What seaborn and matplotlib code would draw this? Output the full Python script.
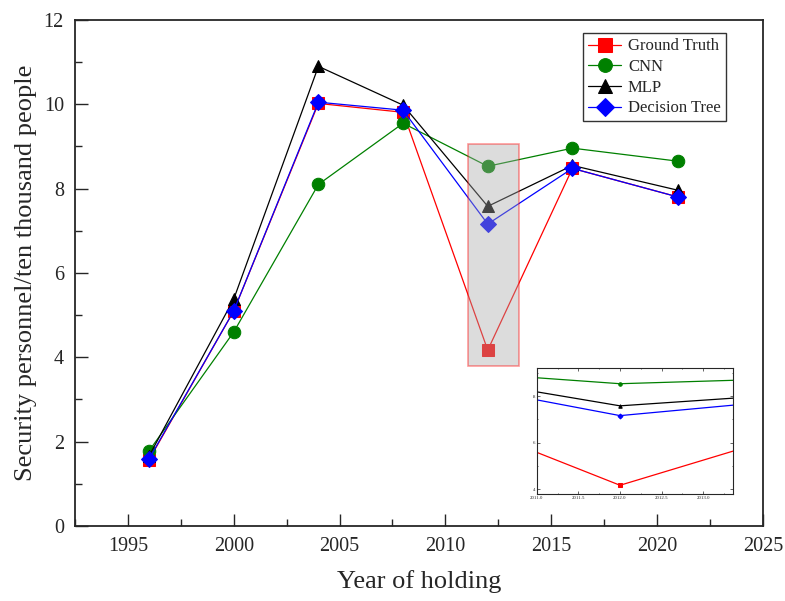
import matplotlib
matplotlib.use("Agg")
import matplotlib.pyplot as plt
import seaborn as sns
import pandas as pd
from matplotlib.patches import Rectangle
from matplotlib.ticker import MultipleLocator, FormatStrFormatter

years = [1996, 2000, 2004, 2008, 2012, 2016, 2021]
ground_truth = [1.57, 5.10, 10.02, 9.81, 4.17, 8.48, 7.80]
cnn = [1.78, 4.60, 8.10, 9.55, 8.53, 8.96, 8.65]
mlp = [1.66, 5.38, 10.90, 9.98, 7.58, 8.55, 7.96]
decision_tree = [1.59, 5.10, 10.05, 9.86, 7.16, 8.48, 7.80]

series_names = ["Ground Truth", "CNN", "MLP", "Decision Tree"]
series_vals = [ground_truth, cnn, mlp, decision_tree]
colors = ["#ff0000", "#008000", "#000000", "#0000ff"]
markers = ["s", "o", "^", "D"]

sns.set_style("ticks")
plt.rcParams["font.family"] = ["Liberation Serif", "DejaVu Serif"]

fig = plt.figure(figsize=(7.85, 6.01), dpi=100)
ax = fig.add_axes([0.0955, 0.1248, 0.8764, 0.842])

for name, vals, c, m in zip(series_names, series_vals, colors, markers):
    df = pd.DataFrame({"year": years, "value": vals})
    sns.lineplot(data=df, x="year", y="value", ax=ax, color=c, marker=m,
                 markersize=9 if m != "D" else 8, linewidth=0.9,
                 markeredgecolor=c, label=name)

ax.set_xlim(1992.5, 2025)
ax.set_ylim(0, 12)
ax.xaxis.set_major_locator(MultipleLocator(5))
ax.xaxis.set_minor_locator(MultipleLocator(2.5))
ax.yaxis.set_major_locator(MultipleLocator(2))
ax.yaxis.set_minor_locator(MultipleLocator(1))
ax.tick_params(which="major", direction="in", length=9, width=1, labelsize=14.5, pad=8)
ax.tick_params(which="minor", direction="in", length=5, width=1)
for s in ax.spines.values():
    s.set_linewidth(1.3)
ax.set_xlabel("Year of holding", fontsize=19, labelpad=10)
ax.set_ylabel("Security personnel/ten thousand people", fontsize=19, labelpad=5)

# highlight rectangle
rect = Rectangle((2011.05, 3.79), 2.43, 5.26, facecolor="#a8a8a8", alpha=0.4,
                 edgecolor="#ff0000", linewidth=1.2, zorder=10)
ax.add_patch(rect)

leg = ax.legend(loc="upper right", bbox_to_anchor=(0.958, 0.99), fontsize=12,
                frameon=True, fancybox=False, edgecolor="black",
                handlelength=2.0, borderpad=0.3, labelspacing=0.28,
                handletextpad=0.4, markerscale=1.1)
leg.get_frame().set_linewidth(1.0)

# inset
axin = ax.inset_axes([0.6715, 0.063, 0.285, 0.249])
for name, vals, c, m in zip(series_names, series_vals, colors, markers):
    df = pd.DataFrame({"year": years, "value": vals})
    sns.lineplot(data=df, x="year", y="value", ax=axin, color=c, marker=m,
                 markersize=2.5, linewidth=0.9, markeredgecolor=c, legend=False)
axin.set_xlim(2011.0, 2013.36)
axin.set_ylim(3.79, 9.2)
axin.xaxis.set_major_locator(MultipleLocator(0.5))
axin.yaxis.set_major_locator(MultipleLocator(2))
axin.yaxis.set_minor_locator(MultipleLocator(1))
axin.xaxis.set_minor_locator(MultipleLocator(0.25))
axin.tick_params(which="both", direction="in", top=True, right=True,
                 labelsize=3.5, length=2, width=0.5, pad=1)
axin.tick_params(which="minor", length=1)
axin.xaxis.set_major_formatter(FormatStrFormatter("%.1f"))
axin.set_xlabel("")
axin.set_ylabel("")
for s in axin.spines.values():
    s.set_linewidth(0.8)

fig.savefig("out.png", dpi=100)
